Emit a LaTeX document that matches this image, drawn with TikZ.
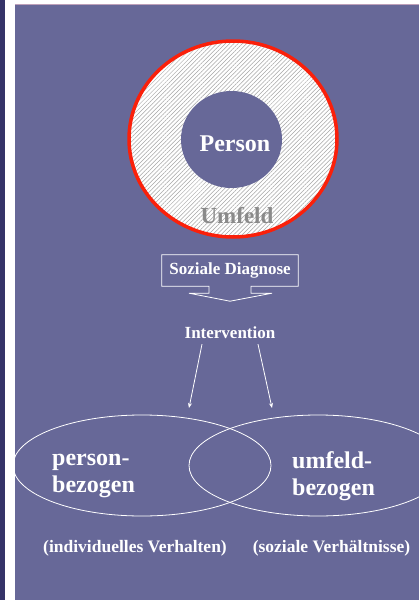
\documentclass[tikz,border=0pt]{standalone}
\usepackage{fontspec}
\setmainfont{Liberation Serif}
\usetikzlibrary{calc,patterns.meta,arrows.meta,positioning}
\definecolor{panelBlue}{RGB}{103,104,152}
\definecolor{stripNavy}{RGB}{53,51,104}
\definecolor{ringRed}{RGB}{250,32,10}
\definecolor{topLine}{RGB}{190,160,185}
\definecolor{umfeldGray}{RGB}{138,138,138}
\tikzset{
  label/.style={text=white, font=\bfseries\fontsize{17}{19}\selectfont, inner sep=0pt},
  biglabel/.style={text=white, font=\bfseries\fontsize{24}{27}\selectfont, inner sep=0pt, align=left},
  thinline/.style={white, line width=0.8pt},
}

\begin{document}
\begin{tikzpicture}[x=1pt, y=-1pt]
    \useasboundingbox (0,0) rectangle (419,600);
    \fill[white] (0,0) rectangle (419,600);
    \fill[stripNavy] (0,0) rectangle (5,600);
    \fill[panelBlue] (15,4) rectangle (419,600);
    \draw[topLine, line width=1pt] (15,4.5) -- (419,4.5);
    % Ring: Person im Umfeld
    \draw[ringRed, line width=3.5pt, preaction={fill=white},
          pattern={Lines[angle=45,distance=3pt,line width=0.5pt]}, pattern color=gray!70]
        (233,139) ellipse [x radius=104, y radius=98];
    \fill[panelBlue] (231.5,139.5) ellipse [x radius=50.5, y radius=48.5];
    \node[text=white, font=\bfseries\fontsize{24}{26}\selectfont, inner sep=0pt] (person) at (235,143.5) {Person};
    \node[text=umfeldGray, font=\bfseries\fontsize{23}{26}\selectfont, inner sep=0pt] (umfeld) at (237,216) {Umfeld};
    % Soziale Diagnose (Pfeil-Legende)
    \node[label, minimum width=136, minimum height=31] (diag) at (230,270.5) {Soziale Diagnose};
    \draw[thinline] (diag.south west) |- (diag.north east) -- (diag.south east)
        -- ($(diag.south)+(21,0)$) -- ++(0,7) -- ++(21,0) -- ($(diag.south)+(0,15)$)
        -- ($(diag.south)+(-41,7)$) -- ++(20,0) -- ++(0,-7) -- cycle;
    \node[label] (interv) at (230,333) {Intervention};
    % Interventionsbereiche
    \begin{scope}
        \clip (15,4) rectangle (419,600);
        \draw[thinline] (142,465.5) ellipse [x radius=129, y radius=50.5];
        \draw[thinline] (318,465.5) ellipse [x radius=129, y radius=50.5];
    \end{scope}
    \coordinate (intL) at ($(interv.south)+(-28,5)$);
    \coordinate (intR) at ($(interv.south)+(28,5)$);
    \coordinate (personTop) at (189,408);
    \coordinate (umfeldTop) at (272,408);
    \draw[thinline, -{Stealth[length=5pt, width=4pt]}] (intL) -- (personTop);
    \draw[thinline, -{Stealth[length=5pt, width=4pt]}] (intR) -- (umfeldTop);
    \node[biglabel, anchor=west] (pbez) at (52,476) {person-\\bezogen};
    \node[biglabel, anchor=west] (ubez) at (292,476) {umfeld-\\bezogen};
    \node[label, font=\bfseries\fontsize{17.5}{20}\selectfont] (indiv) at (135,548) {(individuelles Verhalten)};
    \node[label, font=\bfseries\fontsize{17.5}{20}\selectfont] (sozial) at (331.5,548) {(soziale Verhältnisse)};
\end{tikzpicture}
\end{document}
